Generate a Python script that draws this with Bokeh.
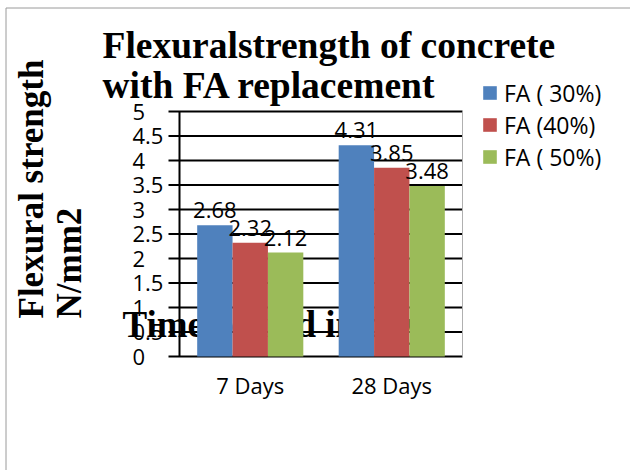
from math import pi
from bokeh.plotting import figure
from bokeh.models import (Range1d, ColumnDataSource, LabelSet, Label, Legend, LegendItem)
from bokeh.core.properties import value
from bokeh.embed import file_html
from bokeh.resources import INLINE

# ---------------- data ----------------
categories = ["7 Days", "28 Days"]
series_names = ["FA ( 30%)", "FA (40%)", "FA ( 50%)"]
fa30 = [2.68, 4.31]
fa40 = [2.32, 3.85]
fa50 = [2.12, 3.48]
y_ticks = [0, 0.5, 1, 1.5, 2, 2.5, 3, 3.5, 4, 4.5, 5]
y_tick_labels = ["0", "0.5", "1", "1.5", "2", "2.5", "3", "3.5", "4", "4.5", "5"]
title_lines = ["Flexuralstrength of concrete", "with FA replacement"]
y_title_lines = ["Flexural strength", "N/mm2"]
x_title = "Time period in days"
colors = ["#4F81BD", "#C0504D", "#9BBB59"]

# ---------------- geometry (page pixels) ----------------
W, H = 630, 470
FL, FR, FT, FB = 179, 462, 111, 356      # plot area edges
XMAX, YMAX = len(categories), 5


def dx(px):
    return (px - FL) / (FR - FL) * XMAX


def dy(py):
    return (FB - py) / (FB - FT) * YMAX


p = figure(width=W, height=H, x_range=Range1d(dx(0), dx(W)), y_range=Range1d(dy(H), dy(0)),
           output_backend="svg", toolbar_location=None,
           x_axis_location=None, y_axis_location=None, min_border=0)
p.background_fill_color = "white"
p.border_fill_color = "white"
p.outline_line_color = None
p.grid.visible = False

SANS = "Open Sans"
SERIF = "Liberation Serif"

# chart-area border (left and top)
p.segment(x0=[dx(5.5), dx(5.5)], y0=[dy(H), dy(7.5)], x1=[dx(5.5), dx(W)], y1=[dy(7.5), dy(7.5)],
          line_color="#9a9a9a", line_width=1)

# horizontal gridlines with their outward ticks
n = len(y_ticks)
p.segment(x0=[dx(168)] * n, x1=[XMAX] * n, y0=y_ticks, y1=y_ticks,
          line_color="black", line_width=2)
# right border of plot area
p.segment(x0=[XMAX], x1=[XMAX], y0=[0], y1=[YMAX], line_color="#b0b0b0", line_width=1)

# x-axis title (behind the bars)
p.text(x=[dx(122)], y=[dy(324)], text=[x_title], text_font=value(SERIF),
       text_font_style="bold", text_font_size="37px", text_color="black",
       text_align="left", text_baseline="alphabetic")

# y-axis line
p.segment(x0=[0], x1=[0], y0=[0], y1=[YMAX], line_color="black", line_width=2)

# bars
legend_items = []
for i, (name, vals, col) in enumerate(zip(series_names, [fa30, fa40, fa50], colors)):
    xs = [k + 0.5 + (i - 1) * 0.25 for k in range(len(categories))]
    src = ColumnDataSource(dict(x=xs, top=vals, label=[f"{v:.2f}" for v in vals]))
    r = p.vbar(x="x", top="top", bottom=0, width=0.25, source=src,
               fill_color=col, line_color=None)
    legend_items.append(LegendItem(label=name, renderers=[r]))
    p.add_layout(LabelSet(x="x", y="top", text="label", source=src, y_offset=7,
                          text_align="center", text_baseline="alphabetic",
                          text_font=value(SANS), text_font_size="22px",
                          text_color="black"))

# y tick labels (left aligned)
tick_src = ColumnDataSource(dict(x=[dx(132)] * n, y=y_ticks, text=y_tick_labels))
p.add_layout(LabelSet(x="x", y="y", text="text", source=tick_src, y_offset=0,
                      text_align="left", text_baseline="middle",
                      text_font=value(SANS), text_font_size="22px", text_color="black"))

# category labels
cat_src = ColumnDataSource(dict(x=[k + 0.5 for k in range(len(categories))],
                                y=[dy(393)] * len(categories), text=categories))
p.add_layout(LabelSet(x="x", y="y", text="text", source=cat_src,
                      text_align="center", text_baseline="alphabetic",
                      text_font=value(SANS), text_font_size="22px", text_color="black"))

# title
for line, base in zip(title_lines, [45, 85]):
    p.add_layout(Label(x=dx(102), y=dy(base), text=line, text_font=SERIF,
                       text_font_style="bold", text_font_size="37.5px", text_color="black",
                       text_align="left", text_baseline="alphabetic"))

# y-axis title
for line, bx in zip(y_title_lines, [31, 69]):
    p.add_layout(Label(x=dx(bx), y=dy(318), text=line, angle=pi / 2, text_font=SERIF,
                       text_font_style="bold", text_font_size="35px", text_color="black",
                       text_align="left", text_baseline="alphabetic"))

legend = Legend(items=legend_items, location=(481, H - 172.5),
                glyph_width=17, glyph_height=17, label_height=30, spacing=0,
                label_standoff=6, padding=0, margin=0,
                border_line_color=None, background_fill_alpha=0,
                label_text_font=SANS, label_text_font_size="23px",
                label_text_color="black")
p.add_layout(legend)

open("out.html", "w").write(file_html(p, INLINE))
